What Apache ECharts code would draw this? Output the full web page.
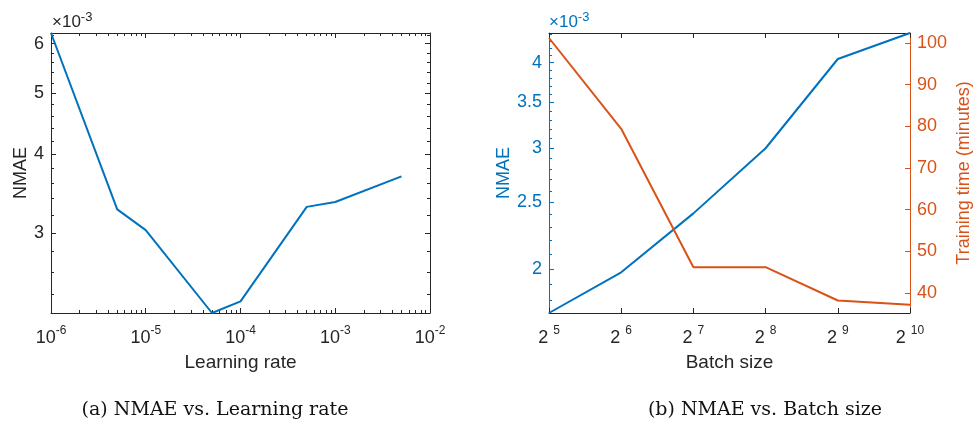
<!DOCTYPE html>
<html>
<head>
<meta charset="utf-8">
<script src="https://cdn.jsdelivr.net/npm/echarts@6/dist/echarts.min.js"></script>
<style>
html,body{margin:0;padding:0;background:#fff;}
#chart{width:974px;height:424px;}
</style>
</head>
<body>
<div id="chart"></div>
<script>
// ---- data ----
const learningRates = [1e-6, 5e-6, 1e-5, 5e-5, 1e-4, 5e-4, 1e-3, 5e-3];
const nmaeByLr = [6.24e-3, 3.27e-3, 3.03e-3, 2.237e-3, 2.334e-3, 3.30e-3, 3.36e-3, 3.69e-3];
const batchSizes = [32, 64, 128, 256, 512, 1024];
const nmaeByBatch = [1.724e-3, 1.977e-3, 2.41e-3, 3.00e-3, 4.05e-3, 4.42e-3];
const trainTime = [101.2, 79.4, 46.2, 46.2, 38.2, 37.2];

// ---- tick values ----
const lrTicks = [1e-6, 1e-5, 1e-4, 1e-3, 1e-2];
const lrMinorTicks = [2,3,4,5,6,7,8,9].flatMap(k => [1e-6,1e-5,1e-4,1e-3].map(d => k*d));
const nmaeLrTicks = [3e-3, 4e-3, 5e-3, 6e-3];
const nmaeLrMinor = [2.4,2.6,2.8,3.2,3.4,3.6,3.8,4.2,4.4,4.6,4.8,5.2,5.4,5.6,5.8,6.2].map(v => v*1e-3);
const batchTicks = [32, 64, 128, 256, 512, 1024];
const nmaeBatchTicks = [2e-3, 2.5e-3, 3e-3, 3.5e-3, 4e-3];
const nmaeBatchMinor = [1.8,1.9,2.1,2.2,2.3,2.4,2.6,2.7,2.8,2.9,3.1,3.2,3.3,3.4,3.6,3.7,3.8,3.9,4.1,4.2,4.3,4.4].map(v => v*1e-3);
const timeTicks = [40, 50, 60, 70, 80, 90, 100];
const timeRange = [35.2, 102.4];

// ---- style ----
const AX = '#262626';
const BLUE = '#0072BD';
const ORANGE = '#D95319';
const FONT = '"Liberation Sans", Arial, Helvetica, sans-serif';
const SERIF = '"DejaVu Serif", "Liberation Serif", serif';

const lrMin = Math.min(...nmaeByLr), lrMax = Math.max(...nmaeByLr);
const bMin = Math.min(...nmaeByBatch), bMax = Math.max(...nmaeByBatch);

const powRich = (color) => ({
  b: {fontSize: 18, lineHeight: 22, verticalAlign: 'bottom', color: color, fontFamily: FONT},
  s: {fontSize: 12, lineHeight: 12, verticalAlign: 'top', color: color, fontFamily: FONT}
});
const fmt10 = v => '{b|10}{s|' + Math.round(Math.log10(v)) + '}';
const fmt2 = v => '{b|2 }{s|' + Math.round(Math.log2(v)) + '}';
const fmtE3 = v => String(Math.round(v * 1e4) / 10);

function axisBase(extra) {
  return Object.assign({
    splitLine: {show: false},
    axisLine: {show: false},
    axisLabel: {show: false},
    axisTick: {show: false}
  }, extra);
}
function tickAxis(opts) {
  const a = axisBase({
    gridIndex: opts.gridIndex, type: opts.type, min: opts.min, max: opts.max,
    position: opts.position,
    axisLine: {show: !!opts.line, onZero: false, lineStyle: {color: opts.color, width: 1}},
    axisTick: {show: true, inside: true, length: opts.len, customValues: opts.ticks,
               lineStyle: {color: opts.color, width: 1}},
    silent: true
  });
  if (opts.type === 'log') a.logBase = opts.logBase || 10;
  return a;
}

const xAxes = [
  Object.assign(tickAxis({gridIndex:0, type:'log', min:1e-6, max:1e-2, position:'bottom', color:AX, ticks:lrTicks, len:5, line:true}), {
    axisLabel: {show: true, customValues: lrTicks, formatter: fmt10, rich: powRich(AX), margin: 12},
    name: 'Learning rate', nameLocation: 'middle', nameGap: 40,
    nameTextStyle: {fontSize: 19, color: AX, fontFamily: FONT}
  }),
  tickAxis({gridIndex:0, type:'log', min:1e-6, max:1e-2, position:'bottom', color:AX, ticks:lrMinorTicks, len:3}),
  tickAxis({gridIndex:0, type:'log', min:1e-6, max:1e-2, position:'top', color:AX, ticks:lrTicks, len:5, line:true}),
  tickAxis({gridIndex:0, type:'log', min:1e-6, max:1e-2, position:'top', color:AX, ticks:lrMinorTicks, len:3}),
  Object.assign(tickAxis({gridIndex:1, type:'log', logBase:2, min:32, max:1024, position:'bottom', color:AX, ticks:batchTicks, len:5, line:true}), {
    axisLabel: {show: true, customValues: batchTicks, formatter: fmt2, rich: powRich(AX), margin: 12},
    name: 'Batch size', nameLocation: 'middle', nameGap: 40,
    nameTextStyle: {fontSize: 19, color: AX, fontFamily: FONT}
  }),
  tickAxis({gridIndex:1, type:'log', logBase:2, min:32, max:1024, position:'top', color:AX, ticks:batchTicks, len:5, line:true})
];

const yAxes = [
  Object.assign(tickAxis({gridIndex:0, type:'log', min:lrMin, max:lrMax, position:'left', color:AX, ticks:nmaeLrTicks, len:5, line:true}), {
    axisLabel: {show: true, customValues: nmaeLrTicks, formatter: fmtE3, margin: 7, fontSize: 18, color: AX, fontFamily: FONT},
    name: 'NMAE', nameLocation: 'middle', nameGap: 18,
    nameTextStyle: {fontSize: 18, color: AX, fontFamily: FONT}
  }),
  tickAxis({gridIndex:0, type:'log', min:lrMin, max:lrMax, position:'left', color:AX, ticks:nmaeLrMinor, len:3}),
  tickAxis({gridIndex:0, type:'log', min:lrMin, max:lrMax, position:'right', color:AX, ticks:nmaeLrTicks, len:5, line:true}),
  tickAxis({gridIndex:0, type:'log', min:lrMin, max:lrMax, position:'right', color:AX, ticks:nmaeLrMinor, len:3}),
  Object.assign(tickAxis({gridIndex:1, type:'log', min:bMin, max:bMax, position:'left', color:BLUE, ticks:nmaeBatchTicks, len:5, line:true}), {
    axisLabel: {show: true, customValues: nmaeBatchTicks, formatter: fmtE3, margin: 7, fontSize: 18, color: BLUE, fontFamily: FONT},
    name: 'NMAE', nameLocation: 'middle', nameGap: 35,
    nameTextStyle: {fontSize: 18, color: BLUE, fontFamily: FONT}
  }),
  tickAxis({gridIndex:1, type:'log', min:bMin, max:bMax, position:'left', color:BLUE, ticks:nmaeBatchMinor, len:3}),
  Object.assign(tickAxis({gridIndex:1, type:'value', min:timeRange[0], max:timeRange[1], position:'right', color:ORANGE, ticks:timeTicks, len:5, line:true}), {
    axisLabel: {show: true, customValues: timeTicks, margin: 7, fontSize: 18, color: ORANGE, fontFamily: FONT},
    name: 'Training time (minutes)', nameLocation: 'middle', nameGap: 45,
    nameTextStyle: {fontSize: 18, color: ORANGE, fontFamily: FONT}
  })
];

const expRich = (color) => ({
  b: {fontSize: 17, lineHeight: 20, verticalAlign: 'bottom', fill: color, fontFamily: FONT},
  s: {fontSize: 13, lineHeight: 13, verticalAlign: 'top', fill: color, fontFamily: FONT}
});

const option = {
  animation: false,
  textStyle: {fontFamily: FONT},
  grid: [
    {left: 51, top: 33, width: 379, height: 280, outerBoundsMode: 'none', containLabel: false},
    {left: 549, top: 33, width: 361, height: 280, outerBoundsMode: 'none', containLabel: false}
  ],
  xAxis: xAxes,
  yAxis: yAxes,
  series: [
    {type: 'line', xAxisIndex: 0, yAxisIndex: 0, showSymbol: false, clip: false,
     data: learningRates.map((x, i) => [x, nmaeByLr[i]]),
     lineStyle: {color: BLUE, width: 2}, itemStyle: {color: BLUE}},
    {type: 'line', xAxisIndex: 4, yAxisIndex: 4, showSymbol: false, clip: false,
     data: batchSizes.map((x, i) => [x, nmaeByBatch[i]]),
     lineStyle: {color: BLUE, width: 2}, itemStyle: {color: BLUE}},
    {type: 'line', xAxisIndex: 4, yAxisIndex: 6, showSymbol: false, clip: false,
     data: batchSizes.map((x, i) => [x, trainTime[i]]),
     lineStyle: {color: ORANGE, width: 2}, itemStyle: {color: ORANGE}}
  ],
  graphic: [
    {type: 'text', left: 52, top: 11, silent: true,
     style: {text: '{b|×10}{s|-3}', rich: expRich(AX)}},
    {type: 'text', left: 549, top: 11, silent: true,
     style: {text: '{b|×10}{s|-3}', rich: expRich(BLUE)}},
    {type: 'text', x: 215, y: 410, silent: true,
     style: {text: '(a) NMAE vs. Learning rate', font: '19px ' + SERIF, fill: '#111', align: 'center', verticalAlign: 'middle'}},
    {type: 'text', x: 765, y: 410, silent: true,
     style: {text: '(b) NMAE vs. Batch size', font: '19px ' + SERIF, fill: '#111', align: 'center', verticalAlign: 'middle'}}
  ]
};

const chart = echarts.init(document.getElementById('chart'), null, {renderer: 'canvas'});
chart.setOption(option);
</script>
</body>
</html>
